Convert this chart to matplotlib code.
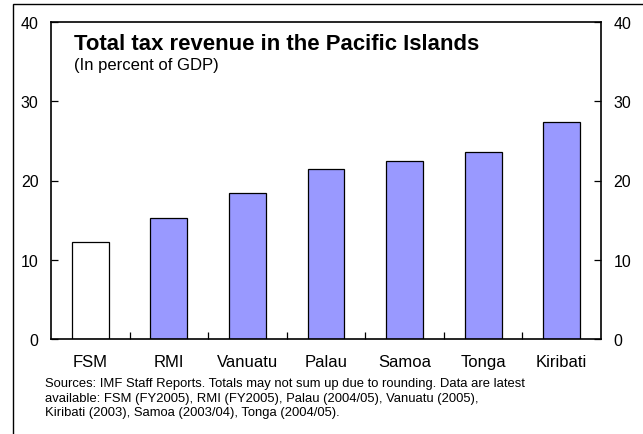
import matplotlib
matplotlib.use("Agg")
import matplotlib.pyplot as plt
from matplotlib.patches import Rectangle

plt.rcParams['font.family'] = ['Liberation Sans', 'DejaVu Sans']

countries = ["FSM", "RMI", "Vanuatu", "Palau", "Samoa", "Tonga", "Kiribati"]
tax_revenue = [12.2, 15.3, 18.4, 21.4, 22.4, 23.6, 27.4]
bar_colors = ["white"] + ["#9999FF"] * 6
y_ticks = [0, 10, 20, 30, 40]

W, H = 643, 435
fig = plt.figure(figsize=(W / 100, H / 100), dpi=100)

# outer frame (runs off the right and bottom edges)
fig.patches.append(Rectangle((13 / W, -0.05), 0.99, (H - 5) / H + 0.05,
                             transform=fig.transFigure, fill=False,
                             edgecolor="black", linewidth=1.0))

left, right, top, bottom = 51, 601, 23, 340
ax = fig.add_axes([left / W, 1 - bottom / H, (right - left) / W, (bottom - top) / H])

x = range(len(countries))
ax.bar(x, tax_revenue, width=0.47, color=bar_colors, edgecolor="black", linewidth=0.9)

ax.set_xlim(-0.5, len(countries) - 0.5)
ax.set_ylim(0, 40)
ax.set_yticks(y_ticks)
ax.set_yticklabels([str(v) for v in y_ticks], fontsize=11.5)
ax.tick_params(axis="y", direction="in", length=5, width=0.9, pad=9,
               left=True, right=True, labelleft=True, labelright=True)

ax.set_xticks(list(x))
ax.set_xticklabels(countries, fontsize=12)
ax.tick_params(axis="x", which="major", length=0, pad=11)
ax.set_xticks([i + 0.5 for i in range(len(countries) - 1)], minor=True)
ax.tick_params(axis="x", which="minor", direction="in", length=5, width=0.9)

for s in ax.spines.values():
    s.set_linewidth(1.2)

ax.text(0.042, 0.915, "Total tax revenue in the Pacific Islands", transform=ax.transAxes,
        fontsize=15.9, fontweight="bold", va="baseline")
ax.text(0.042, 0.852, "(In percent of GDP)", transform=ax.transAxes,
        fontsize=12, va="baseline")

note = ("Sources: IMF Staff Reports. Totals may not sum up due to rounding. Data are latest\n"
        "available: FSM (FY2005), RMI (FY2005), Palau (2004/05), Vanuatu (2005),\n"
        "Kiribati (2003), Samoa (2003/04), Tonga (2004/05).")
fig.text(45 / W, 1 - 378 / H, note, fontsize=9.4, va="top", linespacing=1.3,
         multialignment="left")

fig.savefig("out.png", dpi=100)
